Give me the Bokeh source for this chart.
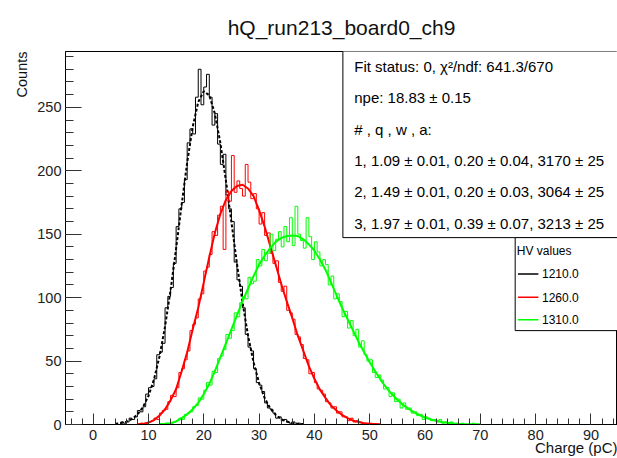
from bokeh.plotting import figure
from bokeh.models import Label, SingleIntervalTicker, Range1d, Title
from bokeh.embed import file_html
from bokeh.resources import INLINE

# ---------------- data ----------------
bin_width = 0.5

black_start = 5.0
black_counts = [2, 1, 2, 5, 4, 6, 11, 10, 14, 24,
                29, 30, 36, 55, 57, 64, 92, 101, 108, 127,
                156, 170, 175, 193, 222, 233, 229, 258, 280, 252,
                266, 276, 258, 236, 245, 221, 205, 213, 181, 170,
                160, 128, 114, 109, 92, 71, 61, 58, 44, 33,
                31, 26, 17, 13, 12, 9, 5, 6, 3, 4,
                2, 1, 2, 0, 1, 0]

red_start = 8.0
red_counts = [0, 1, 0, 1, 2, 3, 5, 4, 9, 11,
              12, 18, 23, 22, 29, 41, 44, 51, 58, 74,
              79, 84, 99, 103, 121, 124, 134, 152, 149, 165,
              172, 138, 184, 176, 212, 183, 192, 186, 180, 205,
              191, 178, 182, 170, 158, 167, 149, 151, 135, 127,
              129, 112, 105, 109, 90, 88, 83, 71, 69, 63,
              52, 51, 40, 41, 33, 28, 27, 24, 18, 17,
              13, 14, 9, 10, 6, 6, 3, 5, 2, 3,
              2, 1, 1, 0, 1, 0, 0, 0]

green_start = 12.0
green_counts = [0, 0, 1, 0, 1, 2, 3, 5, 4, 8,
                9, 10, 14, 15, 21, 20, 27, 33, 31, 42,
                41, 52, 54, 59, 71, 68, 74, 88, 85, 96,
                101, 99, 116, 111, 113, 130, 125, 138, 129, 135,
                150, 137, 146, 152, 140, 156, 144, 163, 141, 172,
                150, 145, 139, 163, 148, 130, 144, 136, 125, 130,
                126, 110, 117, 99, 103, 97, 85, 89, 76, 82,
                70, 75, 61, 66, 55, 50, 51, 41, 37, 39,
                35, 28, 29, 22, 25, 18, 20, 13, 17, 12,
                13, 9, 10, 7, 8, 4, 6, 5, 3, 4,
                2, 4, 1, 2, 1, 2, 0, 1, 0, 1,
                0, 0, 0, 1, 0, 0]

fit_step = 1.0
fit_black_start = 4.0
fit_black = [0.5, 1.1, 2.2, 4.3, 7.8, 13.6, 22.5, 35.6, 53.7, 77.3,
             106, 138.8, 173.3, 206.5, 234.6, 254.2, 262.7, 259.4, 245.1, 221.9,
             192.3, 159.5, 126.7, 96.4, 70.2, 49, 32.7, 20.9, 12.8, 7.5,
             4.2, 2.3, 1.2, 0.6, 0.3]
fit_red_start = 8.0
fit_red = [0.2, 0.5, 1.5, 3.5, 7, 12, 19, 28, 42, 57,
           75, 92, 112, 132, 151, 166, 177, 184, 188, 189,
           186, 180, 169, 156, 141, 126, 111, 97, 84, 70,
           58, 46, 36, 27.5, 21, 15, 11, 7.5, 5, 3,
           2, 1, 0.5, 0.3, 0.1]
fit_green_start = 12.0
fit_green = [0.3, 0.5, 1, 2.5, 5, 8, 12, 17, 24, 32,
             42, 53, 64, 75, 86, 97, 107, 117, 126, 133,
             139, 144, 147, 148.5, 149, 148.5, 146, 142, 137, 130,
             122, 112, 102, 92, 83, 74, 65, 57, 49, 42,
             35, 29, 24, 19.5, 15.5, 12.5, 9.5, 7.5, 5.5, 4,
             3, 2, 1.3, 0.8, 0.5, 0.3, 0.2, 0.1, 0.1]

hv_labels = ["1210.0", "1260.0", "1310.0"]
stats_lines = ["Fit status: 0, \u03c7\u00b2/ndf: 641.3/670",
               "npe: 18.83 \u00b1 0.15",
               "# , q , w , a:",
               "1, 1.09 \u00b1 0.01, 0.20 \u00b1 0.04, 3170 \u00b1 25",
               "2, 1.49 \u00b1 0.01, 0.20 \u00b1 0.03, 3064 \u00b1 25",
               "3, 1.97 \u00b1 0.01, 0.39 \u00b1 0.07, 3213 \u00b1 25"]
title_text = "hQ_run213_board0_ch9"
x_title = "Charge (pC)"
y_title = "Counts"
legend_title = "HV values"

# ---------------- styles / layout ----------------
FONT = "Liberation Sans"
X_LO, X_HI = -5.0, 94.8
Y_LO, Y_HI = 0.0, 294.0
colors = ["black", "#ff0000", "#00ff00"]


def hist_path(start, counts, bw, lo=-5.0, hi=95.0):
    xs = [lo, start]
    ys = [0, 0]
    for i, c in enumerate(counts):
        left = start + i * bw
        xs += [left, left + bw]
        ys += [c, c]
    end = start + len(counts) * bw
    xs += [end, hi]
    ys += [0, 0]
    return xs, ys


def fit_path(start, vals, step):
    return [start + i * step for i in range(len(vals))], list(vals)


p = figure(width=617, height=458, x_range=Range1d(X_LO, X_HI), y_range=Range1d(Y_LO, Y_HI),
           output_backend="svg", toolbar_location=None,
           min_border_left=65, min_border_right=0, min_border_top=51, min_border_bottom=34)
p.xgrid.visible = False
p.ygrid.visible = False
p.outline_line_color = "black"
p.outline_line_width = 1
p.background_fill_color = "white"
p.border_fill_color = "white"

p.title.text = title_text
p.title.align = "center"
p.title.text_font = FONT
p.title.text_font_size = "21px"
p.title.text_font_style = "normal"
p.title.text_color = "#111111"
p.title.standoff = 26

p.add_layout(Title(text=x_title, align="right", vertical_align="top", text_font=FONT,
                   text_font_size="15px", text_font_style="normal", text_color="#111111",
                   standoff=-8), "below")
p.add_layout(Title(text=y_title, align="right", text_font=FONT, text_font_size="14.5px",
                   text_font_style="normal", text_color="#111111", standoff=10), "left")

p.xaxis.ticker = SingleIntervalTicker(interval=10, num_minor_ticks=5)
p.yaxis.ticker = SingleIntervalTicker(interval=50, num_minor_ticks=5)
for ax in (p.xaxis, p.yaxis):
    ax.major_tick_out = 0
    ax.minor_tick_out = 0
    ax.axis_line_color = "black"
    ax.major_tick_line_color = "#333333"
    ax.minor_tick_line_color = "#333333"
    ax.major_label_text_font = FONT
    ax.major_label_text_font_size = "14.5px"
    ax.major_label_text_color = "#222222"
p.xaxis.major_tick_in = 11
p.xaxis.minor_tick_in = 6
p.yaxis.major_tick_in = 16
p.yaxis.minor_tick_in = 8
p.xaxis.major_label_standoff = 5
p.yaxis.major_label_standoff = 4

series = [(black_start, black_counts, fit_black_start, fit_black, "3 2"),
          (red_start, red_counts, fit_red_start, fit_red, "solid"),
          (green_start, green_counts, fit_green_start, fit_green, "solid")]
for (hs, hc, fs, fv, dash), col in zip(series, colors):
    hx, hy = hist_path(hs, hc, bin_width)
    p.line(hx, hy, line_color=col, line_width=1)
    fx, fy = fit_path(fs, fv, fit_step)
    p.line(fx, fy, line_color=col, line_width=2, line_dash=dash)

# stats box
p.quad(left=45.15, right=100, bottom=147.3, top=310, fill_color="white", line_color="black", line_width=1)
stat_y = [282.1, 257.4, 232.8, 208.1, 183.5, 158.8]
for txt, yy in zip(stats_lines, stat_y):
    p.add_layout(Label(x=47.2, y=yy, text=txt, text_font=FONT, text_font_size="15px",
                       text_baseline="middle", text_align="left", text_color="black"))

# legend box
p.quad(left=76.3, right=100, bottom=74, top=147.3, fill_color="white", line_color="black", line_width=1)
p.add_layout(Label(x=76.6, y=136.5, text=legend_title, text_font=FONT, text_font_size="12px",
                   text_baseline="middle", text_align="left", text_color="black"))
leg_y = [118.7, 100.3, 82.5]
for lab, col, yy in zip(hv_labels, colors, leg_y):
    p.line([76.8, 80.5], [yy, yy], line_color=col, line_width=1.5)
    p.add_layout(Label(x=81.15, y=yy, text=lab, text_font=FONT, text_font_size="12px",
                       text_baseline="middle", text_align="left", text_color="black"))

open("out.html", "w").write(file_html(p, INLINE))
